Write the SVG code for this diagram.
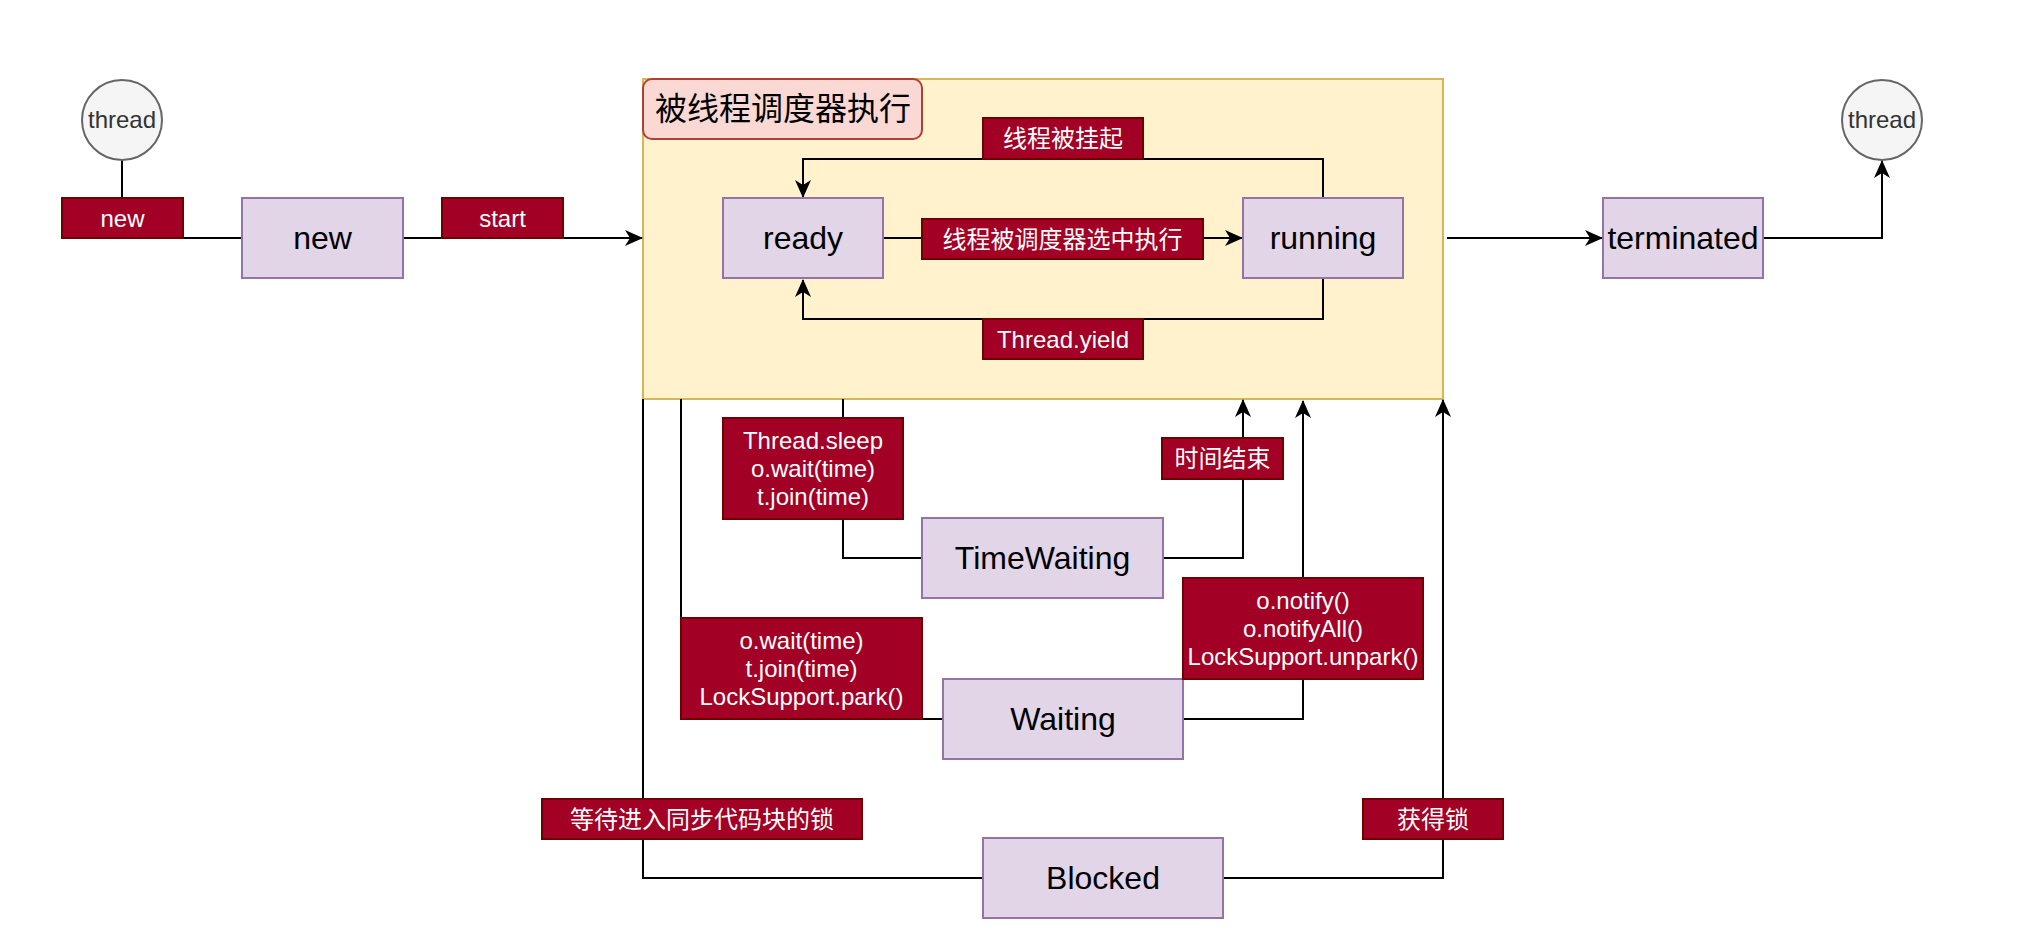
<svg xmlns="http://www.w3.org/2000/svg" width="2020" height="948" viewBox="0 0 2020 948">
<style>
.node{fill:#e1d5e7;stroke:#9673a6;stroke-width:2}
.lbl{fill:#a20025;stroke:#6f0000;stroke-width:2}
.circ{fill:#f5f5f5;stroke:#666666;stroke-width:2}
.edge{fill:none;stroke:#000;stroke-width:2}
.t32{font-family:"Liberation Sans","Noto Sans CJK SC",sans-serif;font-size:32px;fill:#000;text-anchor:middle}
.t24{font-family:"Liberation Sans","Noto Sans CJK SC",sans-serif;font-size:24px;fill:#fff;text-anchor:middle}
.tc{font-family:"Liberation Sans","Noto Sans CJK SC",sans-serif;font-size:24px;fill:#333;text-anchor:middle}
</style>
<defs>
<marker id="arr" viewBox="0 0 18 16" markerWidth="18" markerHeight="16" refX="17" refY="8" orient="auto" markerUnits="userSpaceOnUse">
<path d="M0,0 L18,8 L0,16 L5,8 Z" fill="#000"/>
</marker>
</defs>
<rect width="2020" height="948" fill="#fff"/>

<g id="container">
<rect x="643" y="79" width="800" height="320" fill="#fff2cc" stroke="#d6b656" stroke-width="2"/>
</g>
<g id="title">
<rect x="643" y="79" width="279" height="60" rx="9" fill="#fad9d5" stroke="#ae4132" stroke-width="2"/>
<text class="t32" x="783" y="120">被线程调度器执行</text>
</g>

<g id="connectors">
<path class="edge" d="M122,160 V238 H242"/>
<path class="edge" d="M403,238 H642" marker-end="url(#arr)"/>
<path class="edge" d="M883,238 H1242" marker-end="url(#arr)"/>
<path class="edge" d="M1323,198 V159 H803 V197" marker-end="url(#arr)"/>
<path class="edge" d="M1323,279 V319 H803 V280" marker-end="url(#arr)"/>
<path class="edge" d="M1447,238 H1602" marker-end="url(#arr)"/>
<path class="edge" d="M1763,238 H1882 V161" marker-end="url(#arr)"/>
<path class="edge" d="M843,399 V558 H922"/>
<path class="edge" d="M1163,558 H1243 V400" marker-end="url(#arr)"/>
<path class="edge" d="M681,399 V719 H943"/>
<path class="edge" d="M1183,719 H1303 V401" marker-end="url(#arr)"/>
<path class="edge" d="M643,399 V878 H983"/>
<path class="edge" d="M1223,878 H1443 V400" marker-end="url(#arr)"/>
</g>

<g id="thread-start">
<ellipse class="circ" cx="122" cy="120" rx="40" ry="40"/>
<text class="tc" x="122" y="128">thread</text>
</g>
<g id="thread-end">
<ellipse class="circ" cx="1882" cy="120" rx="40" ry="40"/>
<text class="tc" x="1882" y="128">thread</text>
</g>

<g id="node-new"><rect class="node" x="242" y="198" width="161" height="80"/><text class="t32" x="322.5" y="249">new</text></g>
<g id="node-ready"><rect class="node" x="723" y="198" width="160" height="80"/><text class="t32" x="803" y="249">ready</text></g>
<g id="node-running"><rect class="node" x="1243" y="198" width="160" height="80"/><text class="t32" x="1323" y="249">running</text></g>
<g id="node-terminated"><rect class="node" x="1603" y="198" width="160" height="80"/><text class="t32" x="1683" y="249">terminated</text></g>
<g id="node-timewaiting"><rect class="node" x="922" y="518" width="241" height="80"/><text class="t32" x="1042.5" y="569">TimeWaiting</text></g>
<g id="node-waiting"><rect class="node" x="943" y="679" width="240" height="80"/><text class="t32" x="1063" y="730">Waiting</text></g>
<g id="node-blocked"><rect class="node" x="983" y="838" width="240" height="80"/><text class="t32" x="1103" y="889">Blocked</text></g>

<g id="label-new"><rect class="lbl" x="62" y="198" width="121" height="40"/><text class="t24" x="122.5" y="226.5">new</text></g>
<g id="label-start"><rect class="lbl" x="442" y="198" width="121" height="40"/><text class="t24" x="502.5" y="226.5">start</text></g>
<g id="label-suspend"><rect class="lbl" x="983" y="118" width="160" height="41"/><text class="t24" x="1063" y="147">线程被挂起</text></g>
<g id="label-schedule"><rect class="lbl" x="922" y="219" width="281" height="40"/><text class="t24" x="1062.5" y="247.5">线程被调度器选中执行</text></g>
<g id="label-yield"><rect class="lbl" x="983" y="319" width="160" height="40"/><text class="t24" x="1063" y="347.5">Thread.yield</text></g>
<g id="label-sleep"><rect class="lbl" x="723" y="418" width="180" height="101"/>
<text class="t24" x="813" y="448.5">Thread.sleep</text><text class="t24" x="813" y="476.5">o.wait(time)</text><text class="t24" x="813" y="504.5">t.join(time)</text></g>
<g id="label-timeout"><rect class="lbl" x="1162" y="438" width="121" height="41"/><text class="t24" x="1222.5" y="467">时间结束</text></g>
<g id="label-wait"><rect class="lbl" x="681" y="618" width="241" height="101"/>
<text class="t24" x="801.5" y="648.5">o.wait(time)</text><text class="t24" x="801.5" y="676.5">t.join(time)</text><text class="t24" x="801.5" y="704.5">LockSupport.park()</text></g>
<g id="label-notify"><rect class="lbl" x="1183" y="578" width="240" height="101"/>
<text class="t24" x="1303" y="608.5">o.notify()</text><text class="t24" x="1303" y="636.5">o.notifyAll()</text><text class="t24" x="1303" y="664.5">LockSupport.unpark()</text></g>
<g id="label-sync"><rect class="lbl" x="542" y="799" width="320" height="40"/><text class="t24" x="702" y="827.5">等待进入同步代码块的锁</text></g>
<g id="label-lock"><rect class="lbl" x="1363" y="799" width="140" height="40"/><text class="t24" x="1433" y="827.5">获得锁</text></g>
</svg>
